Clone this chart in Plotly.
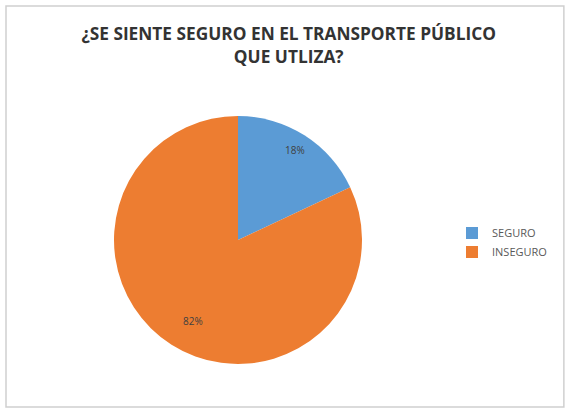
import math
import plotly.graph_objects as go

title_lines = ["¿SE SIENTE SEGURO EN EL TRANSPORTE PÚBLICO", "QUE UTLIZA?"]
labels = ["SEGURO", "INSEGURO"]
values = [18, 82]
colors = ["#5B9BD5", "#ED7D31"]

W, H = 565, 411
dom_x = [114 / W, 362 / W]
dom_y = [(H - 364) / H, (H - 116) / H]

fig = go.Figure(go.Pie(
    labels=labels, values=values, sort=False, direction="clockwise", rotation=0,
    marker=dict(colors=colors, line=dict(color="white", width=0)),
    textinfo="none", hoverinfo="label+percent",
    domain=dict(x=dom_x, y=dom_y), showlegend=True,
))

# percentage labels placed at the slice mid-angle (computed from the values)
cx = (dom_x[0] + dom_x[1]) / 2 * W
cy = (dom_y[0] + dom_y[1]) / 2 * H
r = min((dom_x[1] - dom_x[0]) * W, (dom_y[1] - dom_y[0]) * H) / 2
total = sum(values)
acc = 0
for v in values:
    mid = (acc + v / 2) / total * 2 * math.pi
    acc += v
    px = cx + 0.86 * r * math.sin(mid)
    py = cy + 0.86 * r * math.cos(mid)
    fig.add_annotation(x=px / W, y=py / H, xref="paper", yref="paper",
                       text=f"{round(v / total * 100)}%", showarrow=False,
                       font=dict(family="Open Sans, Liberation Sans, sans-serif", size=10, color="#404040"))

fig.update_layout(
    width=W, height=H,
    margin=dict(l=0, r=0, t=0, b=0),
    paper_bgcolor="white", plot_bgcolor="white",
    title=dict(text="<br>".join(title_lines), x=0.511, xanchor="center", y=0.902, yanchor="middle",
               font=dict(family="Open Sans, Liberation Sans, sans-serif", size=17.3, color="#333333", weight="bold")),
    legend=dict(x=0.80, y=0.41, xanchor="left", yanchor="middle",
                font=dict(family="Open Sans, Liberation Sans, sans-serif", size=11, color="#595959"),
                itemwidth=30, itemsizing="constant"),
    shapes=[dict(type="rect", xref="paper", yref="paper", x0=6 / W, x1=0.998, y0=(H - 407) / H, y1=(H - 6) / H,
                 line=dict(color="#D0D0D0", width=1.5))],
)

fig.write_html("out.html", config={"displayModeBar": False},
               post_script="document.body.style.margin='0';document.body.style.overflow='hidden';")
